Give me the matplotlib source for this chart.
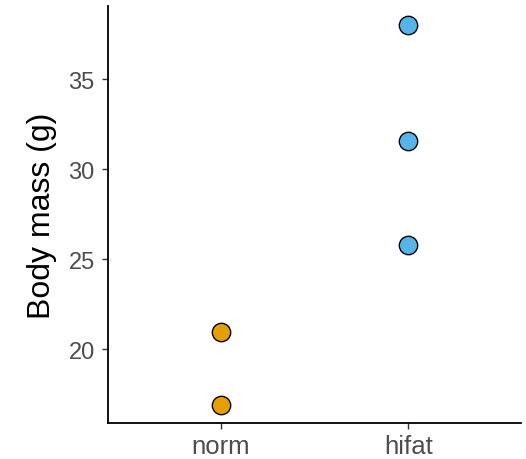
import numpy as np
import matplotlib.pyplot as plt

plt.rcParams['font.family'] = ['Liberation Sans', 'DejaVu Sans']

# diet groups and body mass readings
groups = ['norm', 'hifat']
norm_mass = [20.94, 16.94]
hifat_mass = [38.02, 31.58, 25.8]
group_colors = ['#E69F00', '#56B4E9']

fig = plt.figure(figsize=(5.26, 4.6), dpi=100)
ax = fig.add_axes([0.2053, 0.0772, 0.7852, 0.9076])

for i, (vals, col) in enumerate(zip([norm_mass, hifat_mass], group_colors)):
    ax.scatter(np.full(len(vals), i + 1), vals, s=175, color=col,
               edgecolor='black', linewidth=1.0, zorder=3)

# ggplot style 5% expansion on y, 0.6 on discrete x
allv = norm_mass + hifat_mass
lo, hi = min(allv), max(allv)
span = hi - lo
ax.set_ylim(lo - 0.05 * span, hi + 0.05 * span)
ax.set_xlim(0.4, 2.6)

ax.set_xticks([1, 2])
ax.set_xticklabels(groups)
ax.set_yticks([20, 25, 30, 35])
ax.set_ylabel('Body mass (g)', fontsize=23, labelpad=8)

for side in ['top', 'right']:
    ax.spines[side].set_visible(False)
for side in ['left', 'bottom']:
    ax.spines[side].set_linewidth(1.3)

ax.tick_params(axis='both', length=4.5, width=1.0, colors='#333333',
               labelcolor='#4D4D4D')
ax.tick_params(axis='y', labelsize=17, pad=5)
ax.tick_params(axis='x', labelsize=18.5, pad=3)

fig.savefig('out.png', dpi=100)
